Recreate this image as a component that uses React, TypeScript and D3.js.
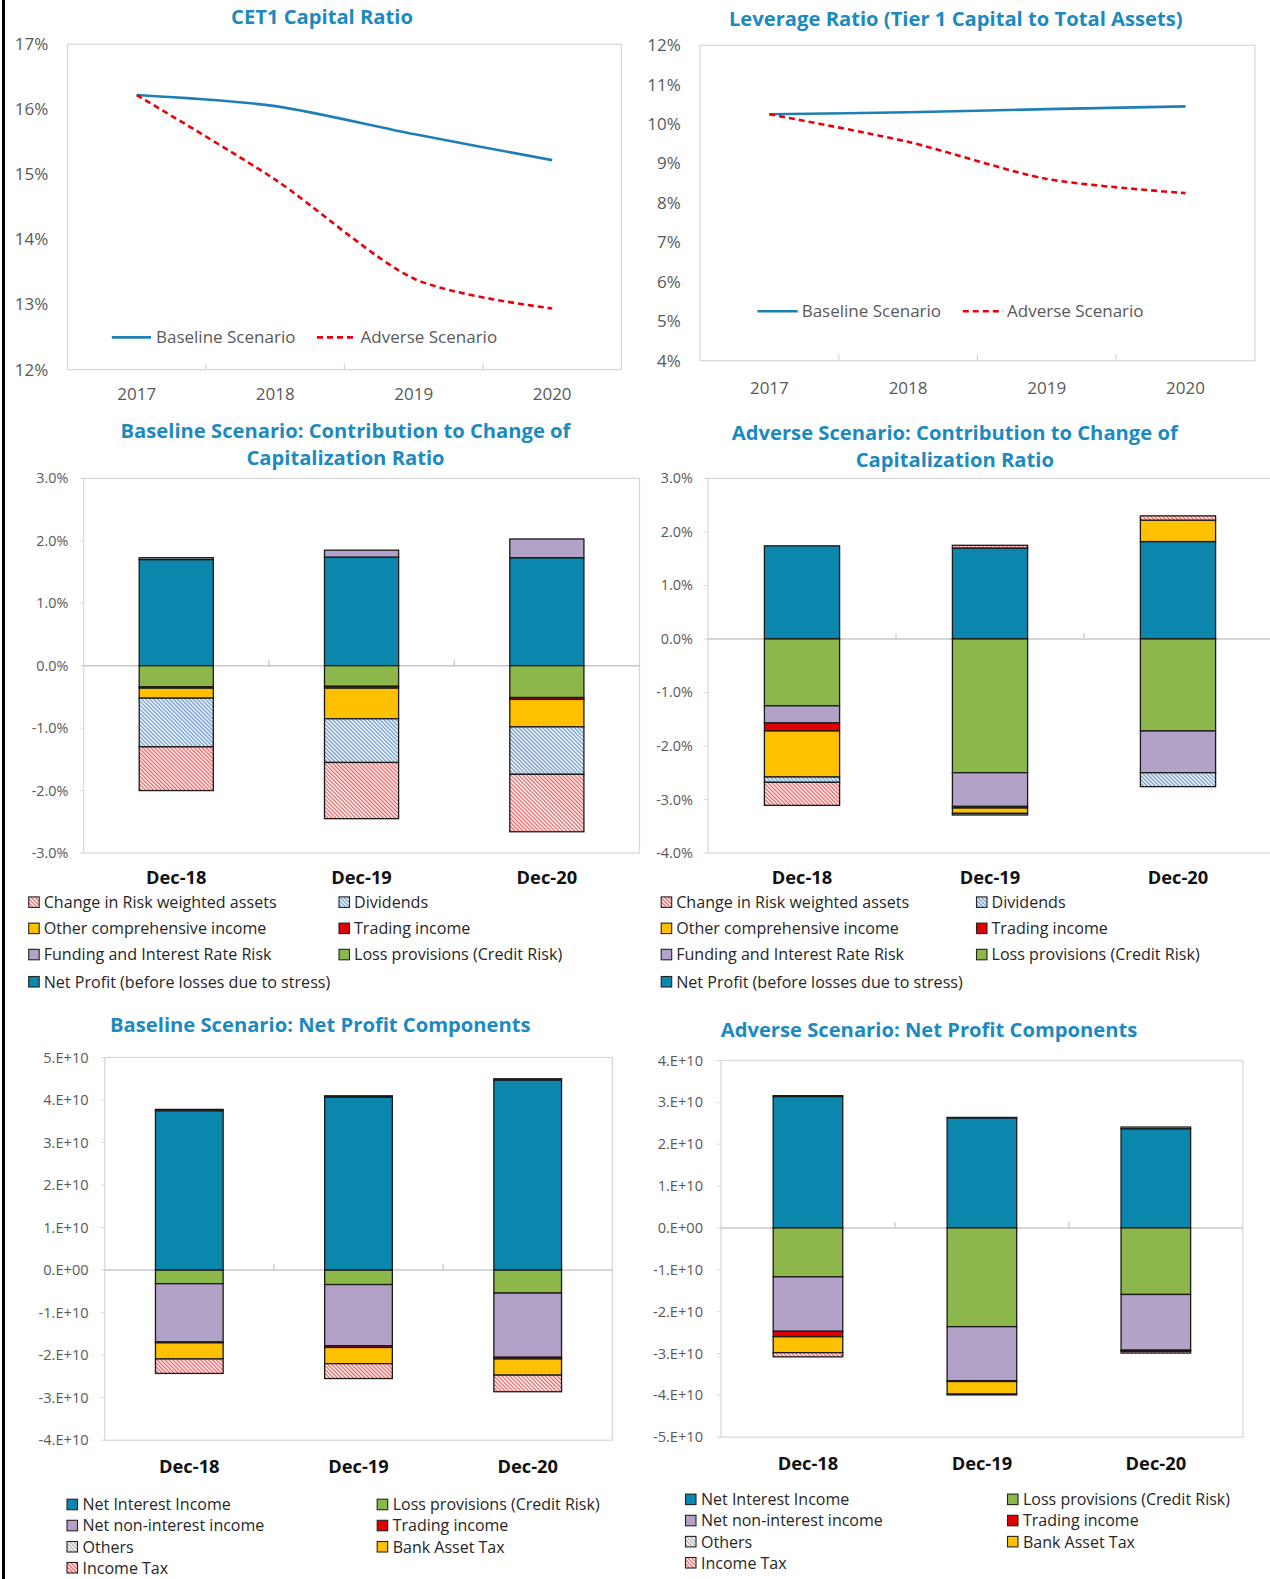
import React, { useEffect, useRef } from 'react';
import * as d3 from 'd3';

// ---- line charts ----
const years = ['2017', '2018', '2019', '2020'];
const cet1Baseline = [16.22, 16.05, 15.62, 15.22];
const cet1Adverse = [16.22, 14.92, 13.4, 12.94];
const leverageBaseline = [10.25, 10.3, 10.38, 10.45];
const leverageAdverse = [10.25, 9.55, 8.61, 8.25];
const scenarioNames = ['Baseline Scenario', 'Adverse Scenario'];

// ---- contribution to change of capitalization ratio (% points) ----
const periods = ['Dec-18', 'Dec-19', 'Dec-20'];
const contribKeys = [
  'Net Profit (before losses due to stress)',
  'Loss provisions (Credit Risk)',
  'Funding and Interest Rate Risk',
  'Trading income',
  'Other comprehensive income',
  'Dividends',
  'Change in Risk weighted assets',
];
const contribLegendOrder = [6, 5, 4, 3, 2, 1, 0];

const baseNetProfit = [1.7, 1.74, 1.73];
const baseLossProv = [-0.34, -0.33, -0.51];
const baseFunding = [0.03, 0.11, 0.3];
const baseTrading = [-0.02, -0.03, -0.03];
const baseOci = [-0.16, -0.49, -0.44];
const baseDividends = [-0.78, -0.7, -0.76];
const baseRwa = [-0.7, -0.9, -0.92];

const advNetProfit = [1.74, 1.7, 1.82];
const advLossProv = [-1.25, -2.5, -1.72];
const advFunding = [-0.32, -0.63, -0.78];
const advTrading = [-0.15, -0.03, 0];
const advOci = [-0.86, -0.1, 0.4];
const advDividends = [-0.1, -0.03, -0.26];
const advRwa = [-0.43, 0.05, 0.08];

// ---- net profit components ----
const profitKeys = [
  'Net Interest Income',
  'Loss provisions (Credit Risk)',
  'Net non-interest income',
  'Trading income',
  'Others',
  'Bank Asset Tax',
  'Income Tax',
];

const baseNii = [3.75e10, 4.07e10, 4.47e10];
const baseNpLossProv = [-0.32e10, -0.34e10, -0.54e10];
const baseNonInterest = [-1.37e10, -1.44e10, -1.51e10];
const baseNpTrading = [-0.02e10, -0.04e10, -0.04e10];
const baseOthers = [0.03e10, 0.03e10, 0.03e10];
const baseBankTax = [-0.38e10, -0.38e10, -0.38e10];
const baseIncomeTax = [-0.34e10, -0.35e10, -0.39e10];

const advNii = [3.14e10, 2.63e10, 2.37e10];
const advNpLossProv = [-1.17e10, -2.36e10, -1.59e10];
const advNonInterest = [-1.3e10, -1.29e10, -1.33e10];
const advNpTrading = [-0.13e10, -0.02e10, -0.03e10];
const advOthers = [0.02e10, 0.01e10, 0.04e10];
const advBankTax = [-0.38e10, -0.3e10, 0];
const advIncomeTax = [-0.1e10, -0.02e10, -0.04e10];

const FONT = "'Open Sans', sans-serif";
const TITLE_COLOR = '#1C8AC0';
const TICK_COLOR = '#595959';
const FRAME = '#D9D9D9';

const fills: Record<string, string> = {
  'Net Profit (before losses due to stress)': '#0B87AE',
  'Net Interest Income': '#0B87AE',
  'Loss provisions (Credit Risk)': '#8CB84B',
  'Funding and Interest Rate Risk': '#B3A2C7',
  'Net non-interest income': '#B3A2C7',
  'Trading income': '#E00000',
  'Other comprehensive income': '#FFC000',
  'Bank Asset Tax': '#FFC000',
  Dividends: 'url(#hatchBlue)',
  'Change in Risk weighted assets': 'url(#hatchRed)',
  'Income Tax': 'url(#hatchRed)',
  Others: 'url(#hatchGray)',
};

function buildRows(keys: string[], series: number[][]) {
  return periods.map((p, i) => {
    const row: any = { period: p };
    keys.forEach((k, j) => (row[k] = series[j][i]));
    return row;
  });
}

function drawLineChart(svg: any, o: any) {
  const g = svg.append('g');
  const x = d3.scaleBand().domain(years).range([o.left, o.right]);
  const y = d3.scaleLinear().domain(o.domain).range([o.bottom, o.top]);

  g.append('text')
    .attr('x', o.titleX)
    .attr('y', o.titleY)
    .attr('text-anchor', 'middle')
    .attr('font-size', 20.2)
    .attr('font-weight', 700)
    .attr('fill', TITLE_COLOR)
    .text(o.title);

  g.append('rect')
    .attr('x', o.left)
    .attr('y', o.top)
    .attr('width', o.right - o.left)
    .attr('height', o.bottom - o.top)
    .attr('fill', 'none')
    .attr('stroke', FRAME)
    .attr('stroke-width', 1.3);

  const ticks = d3.range(o.domain[0], o.domain[1] + 1);
  g.selectAll('.yt')
    .data(ticks)
    .enter()
    .append('text')
    .attr('x', o.labelRight)
    .attr('y', (d: number) => y(d))
    .attr('dy', '0.35em')
    .attr('text-anchor', 'end')
    .attr('font-size', 17)
    .attr('fill', TICK_COLOR)
    .text((d: number) => `${d}%`);

  // category separators on x axis
  years.slice(1).forEach((yr) => {
    const xx = x(yr)!;
    g.append('line')
      .attr('x1', xx).attr('x2', xx)
      .attr('y1', o.bottom).attr('y2', o.bottom - 6)
      .attr('stroke', FRAME).attr('stroke-width', 1.3);
  });

  g.selectAll('.xt')
    .data(years)
    .enter()
    .append('text')
    .attr('x', (d: string) => x(d)! + x.bandwidth() / 2)
    .attr('y', o.xLabelY)
    .attr('text-anchor', 'middle')
    .attr('font-size', 17)
    .attr('fill', TICK_COLOR)
    .text((d: string) => d);

  const line = d3
    .line<number>()
    .x((_, i) => x(years[i])! + x.bandwidth() / 2)
    .y((d) => y(d))
    .curve(d3.curveCardinal.tension(0.2));

  g.append('path')
    .attr('d', line(o.baseline))
    .attr('fill', 'none')
    .attr('stroke', '#1F7FB4')
    .attr('stroke-width', 2.6);
  g.append('path')
    .attr('d', line(o.adverse))
    .attr('fill', 'none')
    .attr('stroke', '#E8000B')
    .attr('stroke-width', 2.6)
    .attr('stroke-dasharray', '6,4');

  o.legend.forEach((it: any, i: number) => {
    g.append('line')
      .attr('x1', it[0]).attr('x2', it[1])
      .attr('y1', o.legendY).attr('y2', o.legendY)
      .attr('stroke', i === 0 ? '#1F7FB4' : '#E8000B')
      .attr('stroke-width', 2.6)
      .attr('stroke-dasharray', i === 0 ? null : '6,4');
    g.append('text')
      .attr('x', it[2])
      .attr('y', o.legendY)
      .attr('dy', '0.35em')
      .attr('font-size', 17)
      .attr('fill', TICK_COLOR)
      .text(scenarioNames[i]);
  });
}

function drawStackedChart(svg: any, o: any) {
  const g = svg.append('g');
  const rows = buildRows(o.keys, o.series);
  const x = d3.scaleBand().domain(periods).range([o.left, o.right]).paddingInner(0.6).paddingOuter(0.3);
  const bands = d3.scaleBand().domain(periods).range([o.left, o.right]);
  const y = d3.scaleLinear().domain(o.domain).range([o.bottom, o.top]);

  o.title.forEach((t: string, i: number) => {
    g.append('text')
      .attr('x', o.titleX)
      .attr('y', o.titleY + i * 27)
      .attr('text-anchor', 'middle')
      .attr('font-size', 20.2)
      .attr('font-weight', 700)
      .attr('fill', TITLE_COLOR)
      .text(t);
  });

  g.append('rect')
    .attr('x', o.left)
    .attr('y', o.top)
    .attr('width', o.right - o.left)
    .attr('height', o.bottom - o.top)
    .attr('fill', 'none')
    .attr('stroke', FRAME)
    .attr('stroke-width', 1.3);

  const ticks = d3.range(o.domain[0], o.domain[1] + o.step / 2, o.step);
  ticks.forEach((t: number) => {
    g.append('line')
      .attr('x1', o.left - 4).attr('x2', o.left)
      .attr('y1', y(t)).attr('y2', y(t))
      .attr('stroke', FRAME);
    g.append('text')
      .attr('x', o.labelRight)
      .attr('y', y(t))
      .attr('dy', '0.35em')
      .attr('text-anchor', 'end')
      .attr('font-size', o.tickSize)
      .attr('fill', TICK_COLOR)
      .text(o.format(t));
  });

  g.append('line')
    .attr('x1', o.left).attr('x2', o.right)
    .attr('y1', y(0)).attr('y2', y(0))
    .attr('stroke', '#C8C8C8').attr('stroke-width', 1.5);
  periods.slice(1).forEach((p) => {
    const xx = bands(p)!;
    g.append('line')
      .attr('x1', xx).attr('x2', xx)
      .attr('y1', y(0)).attr('y2', y(0) - 6)
      .attr('stroke', '#C8C8C8').attr('stroke-width', 1.3);
  });

  const stacked = d3.stack<any>().keys(o.keys).offset(d3.stackOffsetDiverging)(rows);
  stacked.forEach((layer: any) => {
    g.selectAll(null)
      .data(layer.filter((d: any) => d[1] - d[0] !== 0))
      .enter()
      .append('rect')
      .attr('x', (d: any) => x(d.data.period)!)
      .attr('width', x.bandwidth())
      .attr('y', (d: any) => y(Math.max(d[0], d[1])))
      .attr('height', (d: any) => Math.abs(y(d[0]) - y(d[1])))
      .attr('fill', fills[layer.key])
      .attr('stroke', '#1A1A1A')
      .attr('stroke-width', 1.3);
  });

  g.selectAll('.xl')
    .data(periods)
    .enter()
    .append('text')
    .attr('x', (d: string) => x(d)! + x.bandwidth() / 2)
    .attr('y', o.xLabelY)
    .attr('dy', '0.35em')
    .attr('text-anchor', 'middle')
    .attr('font-size', 18.3)
    .attr('font-weight', 700)
    .attr('fill', '#111')
    .text((d: string) => d);

  o.legendOrder.forEach((ki: number, i: number) => {
    const col = i % 2;
    const row = Math.floor(i / 2);
    const lx = o.legendCols[col];
    const ly = o.legendRows[row];
    g.append('rect')
      .attr('x', lx)
      .attr('y', ly - 5.5)
      .attr('width', 10.5)
      .attr('height', 10.5)
      .attr('fill', fills[o.keys[ki]])
      .attr('stroke', '#222')
      .attr('stroke-width', 1.1);
    g.append('text')
      .attr('x', lx + o.legendText)
      .attr('y', ly)
      .attr('dy', '0.35em')
      .attr('font-size', o.legendSize)
      .attr('fill', '#262626')
      .text(o.keys[ki]);
  });
}

const pct = (t: number) => `${t.toFixed(1)}%`;
const sci = (t: number) => (t === 0 ? '0.E+00' : `${Math.round(t / 1e10)}.E+10`);

const App = () => {
  const ref = useRef<SVGSVGElement | null>(null);

  useEffect(() => {
    const svg = d3.select(ref.current);
    svg.selectAll('*').remove();
    svg.attr('font-family', FONT);

    const defs = svg.append('defs');
    const hatch = (id: string, color: string) => {
      const p = defs
        .append('pattern')
        .attr('id', id)
        .attr('patternUnits', 'userSpaceOnUse')
        .attr('width', 2.8)
        .attr('height', 2.8)
        .attr('patternTransform', 'rotate(-45)');
      p.append('rect').attr('width', 2.8).attr('height', 2.8).attr('fill', '#fff');
      p.append('line').attr('x1', 0.7).attr('x2', 0.7).attr('y1', 0).attr('y2', 2.8)
        .attr('stroke', color).attr('stroke-width', 1.1);
    };
    hatch('hatchRed', '#F03A3A');
    hatch('hatchBlue', '#4F81BD');
    hatch('hatchGray', '#9A9A9A');

    // left page rule
    svg.append('rect').attr('x', 2).attr('y', 0).attr('width', 3).attr('height', 1579).attr('fill', '#000');

    drawLineChart(svg, {
      title: 'CET1 Capital Ratio', titleX: 322, titleY: 24,
      left: 67.5, right: 621.4, top: 44.3, bottom: 369.6, domain: [12, 17],
      labelRight: 48.3, xLabelY: 400, legendY: 337.4,
      legend: [[111.8, 151, 156], [317, 356.5, 360.6]],
      baseline: cet1Baseline, adverse: cet1Adverse,
    });
    drawLineChart(svg, {
      title: 'Leverage Ratio (Tier 1 Capital to Total Assets)', titleX: 955.8, titleY: 26,
      left: 700, right: 1254.9, top: 45.3, bottom: 360.6, domain: [4, 12],
      labelRight: 680.8, xLabelY: 394, legendY: 311.2,
      legend: [[757.4, 797.7, 801.7], [962.8, 1003, 1007]],
      baseline: leverageBaseline, adverse: leverageAdverse,
    });

    drawStackedChart(svg, {
      title: ['Baseline Scenario: Contribution to Change of', 'Capitalization Ratio'],
      titleX: 345.5, titleY: 438,
      left: 83.6, right: 639.5, top: 478.4, bottom: 853, domain: [-3, 3], step: 1, format: pct,
      tickSize: 14.4, labelRight: 68.5, xLabelY: 878,
      keys: contribKeys, legendOrder: contribLegendOrder,
      series: [baseNetProfit, baseLossProv, baseFunding, baseTrading, baseOci, baseDividends, baseRwa],
      legendCols: [28.7, 339], legendText: 15, legendSize: 16.1,
      legendRows: [902.4, 928.6, 954.8, 982],
    });
    drawStackedChart(svg, {
      title: ['Adverse Scenario: Contribution to Change of', 'Capitalization Ratio'],
      titleX: 954.8, titleY: 440,
      left: 708, right: 1272, top: 478.4, bottom: 853, domain: [-4, 3], step: 1, format: pct,
      tickSize: 14.4, labelRight: 693, xLabelY: 878,
      keys: contribKeys, legendOrder: contribLegendOrder,
      series: [advNetProfit, advLossProv, advFunding, advTrading, advOci, advDividends, advRwa],
      legendCols: [661.2, 976.5], legendText: 15, legendSize: 16.1,
      legendRows: [902.4, 928.6, 954.8, 982],
    });

    drawStackedChart(svg, {
      title: ['Baseline Scenario: Net Profit Components'],
      titleX: 320.3, titleY: 1032,
      left: 104.7, right: 612.3, top: 1057.5, bottom: 1440.2, domain: [-4e10, 5e10], step: 1e10, format: sci,
      tickSize: 14.6, labelRight: 88.6, xLabelY: 1466.4,
      keys: profitKeys, legendOrder: [0, 1, 2, 3, 4, 5, 6],
      series: [baseNii, baseNpLossProv, baseNonInterest, baseNpTrading, baseOthers, baseBankTax, baseIncomeTax],
      legendCols: [67, 377.2], legendText: 15.5, legendSize: 16,
      legendRows: [1504.7, 1525.8, 1547, 1568],
    });
    drawStackedChart(svg, {
      title: ['Adverse Scenario: Net Profit Components'],
      titleX: 929, titleY: 1037,
      left: 721, right: 1242.8, top: 1060.5, bottom: 1437.2, domain: [-5e10, 4e10], step: 1e10, format: sci,
      tickSize: 14.6, labelRight: 703, xLabelY: 1463.4,
      keys: profitKeys, legendOrder: [0, 1, 2, 3, 4, 5, 6],
      series: [advNii, advNpLossProv, advNonInterest, advNpTrading, advOthers, advBankTax, advIncomeTax],
      legendCols: [685.5, 1007.5], legendText: 15.5, legendSize: 16,
      legendRows: [1499.6, 1520.8, 1541.9, 1563],
    });
  }, []);

  return (
    <svg
      ref={ref}
      width={1270}
      height={1579}
      style={{ position: 'absolute', left: 0, top: 0, background: '#fff' }}
    />
  );
};

export default App;
